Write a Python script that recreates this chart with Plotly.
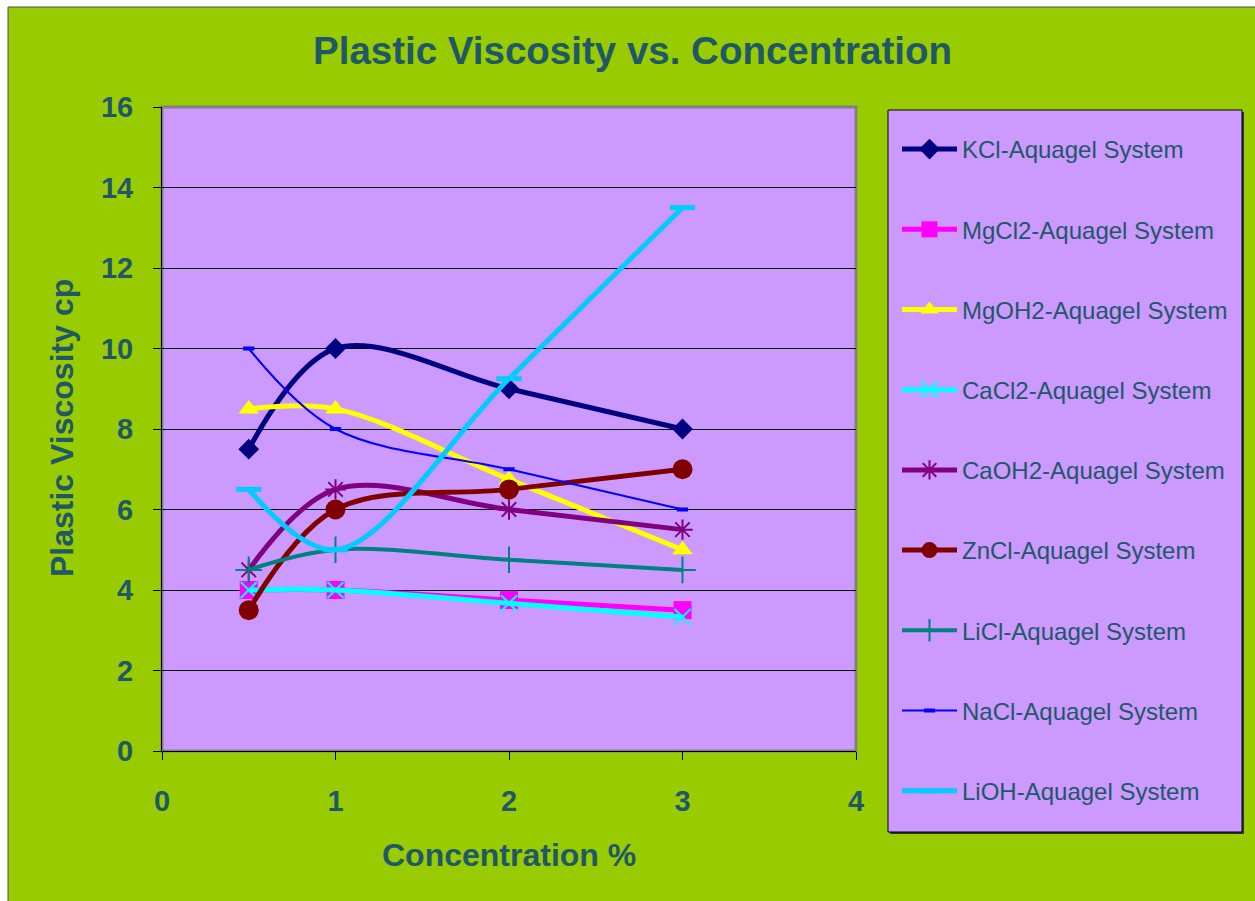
import plotly.graph_objects as go

# Concentration (%) on the x axis
concentration = [0.5, 1, 2, 3]

# Plastic viscosity (cp) per system
kcl = [7.5, 10, 9, 8]
mgcl2 = [4, 4, 3.75, 3.5]
mgoh2 = [8.5, 8.5, 6.75, 5]
cacl2 = [4, 4, 3.67, 3.33]
caoh2 = [4.5, 6.5, 6, 5.5]
zncl = [3.5, 6, 6.5, 7]
licl = [4.5, 5, 4.75, 4.5]
nacl = [10, 8, 7, 6]
lioh = [6.5, 5, 9.25, 13.5]

names = [
    "KCl-Aquagel System", "MgCl2-Aquagel System", "MgOH2-Aquagel System",
    "CaCl2-Aquagel System", "CaOH2-Aquagel System", "ZnCl-Aquagel System",
    "LiCl-Aquagel System", "NaCl-Aquagel System", "LiOH-Aquagel System",
]
series = [kcl, mgcl2, mgoh2, cacl2, caoh2, zncl, licl, nacl, lioh]

y_ticks = [0, 2, 4, 6, 8, 10, 12, 14, 16]
x_ticks = [0, 1, 2, 3, 4]

# line colour, line width, marker symbol, marker size, marker outline width
styles = [
    ("#000080", 5, "diamond", 16, 0),
    ("#FF00FF", 5, "square", 18, 0),
    ("#FFFF00", 5, "triangle-up", 18, 0),
    ("#00FFFF", 5, "x-thin-open", 16, 2),
    ("#800080", 5, "asterisk-open", 17, 2),
    ("#800000", 5, "circle", 20, 0),
    ("#008080", 4, "cross-thin-open", 19, 2),
    ("#0000FF", 2, "line-ew-open", 8, 4),
    ("#00CCFF", 5, "line-ew-open", 18, 5),
]

TEXT = "#205868"
FONT = "Liberation Sans, Arial, sans-serif"

W, H = 1255, 901
L, R, T, B = 162, 856, 107, 751  # plot area in pixels


def px_x(p):
    return (p - L) / (R - L)


def px_y(p):
    return (B - p) / (B - T)


fig = go.Figure()
for name, ys, (col, lw, sym, ms, mlw) in zip(names, series, styles):
    fig.add_trace(go.Scatter(
        x=concentration, y=ys, name=name, legendgroup=name,
        mode="lines+markers",
        line=dict(color=col, width=lw, shape="spline", smoothing=1),
        marker=dict(symbol=sym, size=ms, color=col,
                    line=dict(color=col, width=mlw)),
    ))

shapes = [
    # chart background
    dict(type="rect", xref="paper", yref="paper", layer="below",
         x0=px_x(8), x1=px_x(W + 20), y0=px_y(H + 20), y1=px_y(7),
         fillcolor="#99CC00", line=dict(color="#4A4A4A", width=1)),
    # plot area
    dict(type="rect", xref="paper", yref="paper", layer="below",
         x0=0, x1=1, y0=0, y1=1,
         fillcolor="#CC99FF", line=dict(color="#808080", width=3)),
    # legend shadow
    dict(type="rect", xref="paper", yref="paper", layer="below",
         x0=px_x(890), x1=px_x(1244), y0=px_y(834), y1=px_y(112),
         fillcolor="#333333", line=dict(width=0)),
    # legend box
    dict(type="rect", xref="paper", yref="paper", layer="below",
         x0=px_x(888), x1=px_x(1242), y0=px_y(832), y1=px_y(110),
         fillcolor="#CC99FF", line=dict(color="#000000", width=1)),
]

annotations = [
    dict(text="<b>Plastic Viscosity vs. Concentration</b>", xref="paper", yref="paper",
         x=px_x(632), y=px_y(50), showarrow=False, xanchor="center", yanchor="middle",
         font=dict(size=38.5, color=TEXT, family=FONT)),
    dict(text="<b>Concentration %</b>", xref="paper", yref="paper",
         x=px_x(509), y=px_y(855), showarrow=False, xanchor="center", yanchor="middle",
         font=dict(size=32, color=TEXT, family=FONT)),
    dict(text="<b>Plastic Viscosity cp</b>", xref="paper", yref="paper",
         x=px_x(62), y=px_y(428), showarrow=False, xanchor="center", yanchor="middle",
         textangle=-90, font=dict(size=32, color=TEXT, family=FONT)),
]

fig.update_layout(
    width=W, height=H,
    margin=dict(l=L, r=W - R, t=T, b=H - B, pad=0),
    paper_bgcolor="#FFFFFF",
    plot_bgcolor="rgba(0,0,0,0)",
    shapes=shapes,
    annotations=annotations,
    font=dict(family=FONT, color=TEXT),
    legend=dict(
        x=px_x(897), y=px_y(127), xanchor="left", yanchor="top",
        bgcolor="rgba(0,0,0,0)", borderwidth=0,
        font=dict(size=24, color=TEXT, family=FONT),
        tracegroupgap=46, itemwidth=55, maxheight=800,
    ),
    showlegend=True,
)

tick_font = dict(size=29, color=TEXT, family=FONT, weight="bold")

fig.update_xaxes(
    range=[0, 4], tickvals=x_ticks, ticktext=[str(v) for v in x_ticks],
    showgrid=False, zeroline=False,
    showline=True, linecolor="#000000", linewidth=1,
    ticks="outside", ticklen=8, tickcolor="#000000", tickwidth=1,
    tickfont=tick_font,
    ticklabelstandoff=16,
)
fig.update_yaxes(
    range=[0, 16], tickvals=y_ticks, ticktext=[str(v) for v in y_ticks],
    showgrid=True, gridcolor="#000000", gridwidth=1,
    zeroline=False,
    showline=True, linecolor="#000000", linewidth=1,
    ticks="outside", ticklen=8, tickcolor="#000000", tickwidth=1,
    tickfont=tick_font,
    ticklabelstandoff=14,
)

fig.write_html("out.html")
